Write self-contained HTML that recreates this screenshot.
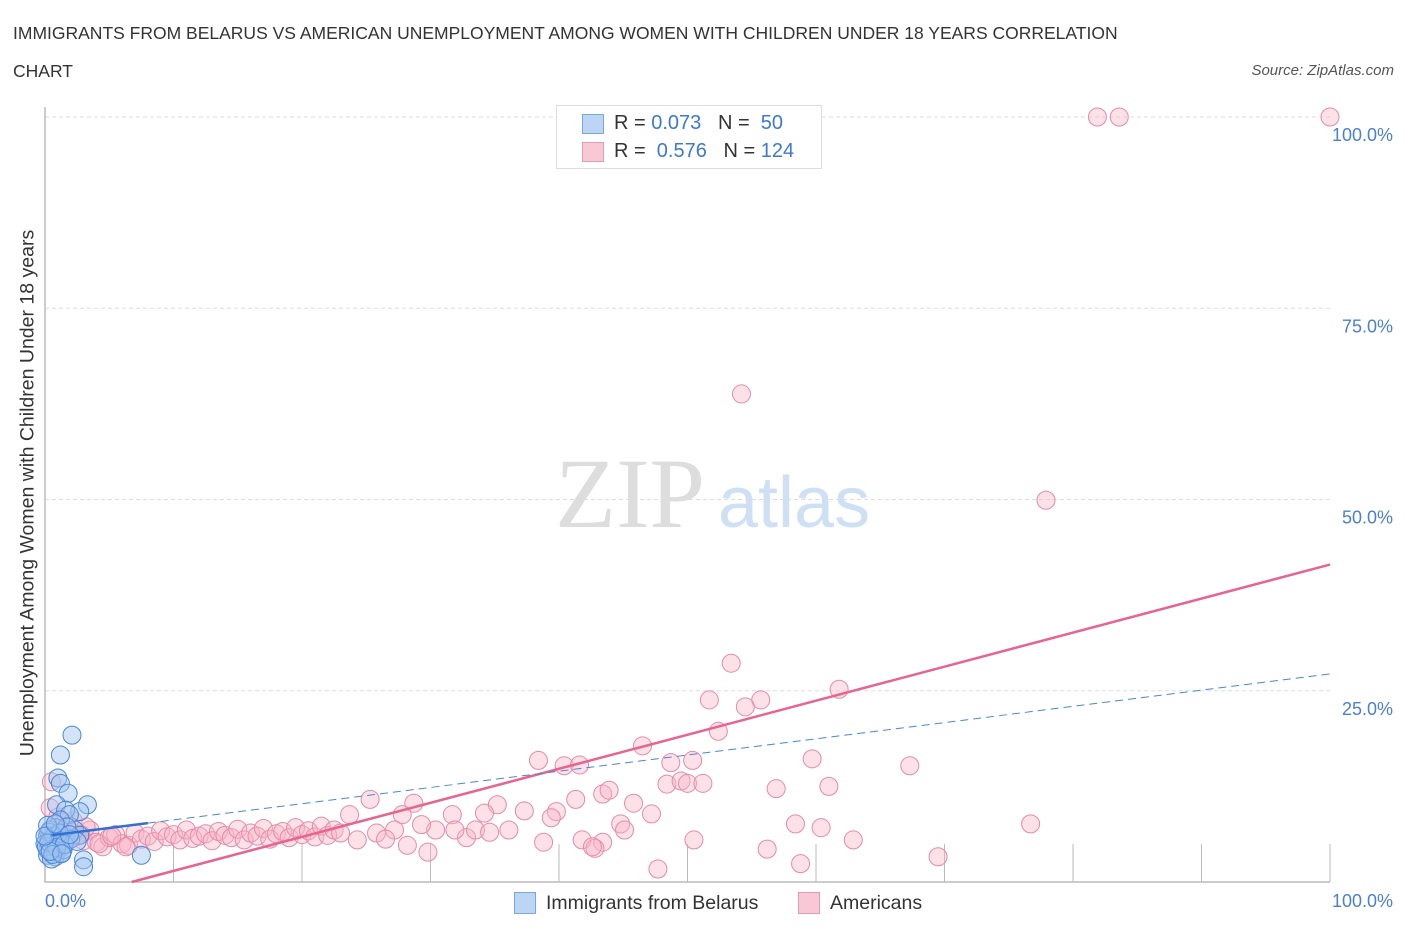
<!DOCTYPE html>
<html><head><meta charset="utf-8"><style>
body{margin:0;background:#fff;font-family:"Liberation Sans",sans-serif;}
#wrap{position:relative;width:1406px;height:930px;overflow:hidden;}
.t{position:absolute;white-space:nowrap;}
</style></head><body>
<div id="wrap">
<div class="t" style="left:13px;top:14px;font-size:17.5px;color:#333;line-height:38px">IMMIGRANTS FROM BELARUS VS AMERICAN UNEMPLOYMENT AMONG WOMEN WITH CHILDREN UNDER 18 YEARS CORRELATION<br>CHART</div>
<div class="t" style="right:12px;top:62px;font-size:15px;color:#555;font-style:italic">Source: ZipAtlas.com</div>
<svg id="svg" width="1406" height="930" style="position:absolute;left:0;top:0"></svg>
</div>
<script>
const pinkX=[81.9,83.6,100,54.2,77.9,53.4,61.8,51.7,55.7,54.5,52.4,46.5,38.4,59.7,40.4,41.6,48.7,50.4,67.3,48.4,49.5,50.0,51.2,56.9,61.0,43.4,43.9,41.3,45.8,25.3,28.7,35.2,37.3,39.8,39.4,47.2,34.2,31.7,23.7,27.8,44.8,45.1,58.4,60.4,76.7,43.4,41.8,50.5,38.8,62.9,42.8,42.6,56.2,47.7,58.8,69.5,29.8,28.2,24.3,25.8,27.2,30.4,32.8,33.5,36.1,34.6,31.9,29.3,0.5,0.4,1.0,1.5,2.0,2.5,3.0,3.5,4.0,4.5,5.0,5.5,6.0,6.5,7.0,7.5,8.0,8.5,9.0,9.5,10.0,10.5,11.0,11.5,12.0,12.5,13.0,13.5,14.0,14.5,15.0,15.5,16.0,16.5,17.0,17.5,18.0,18.5,19.0,19.5,20.0,20.5,21.0,21.5,22.0,22.5,23.0,2.2,3.2,1.8,2.8,4.2,5.2,6.3,1.2,26.5];
const pinkY=[100,100,100,63.8,49.9,28.6,25.2,23.8,23.8,22.9,19.7,17.8,15.9,16.1,15.2,15.3,15.6,15.9,15.2,12.8,13.2,12.9,12.9,12.2,12.5,11.5,12.0,10.8,10.3,10.8,10.3,10.1,9.3,9.2,8.4,8.9,9.0,8.8,8.8,8.8,7.6,6.8,7.6,7.1,7.6,5.2,5.5,5.5,5.2,5.5,4.4,4.6,4.3,1.7,2.4,3.3,3.9,4.8,5.5,6.4,6.8,6.8,5.8,6.8,6.8,6.5,6.8,7.5,13.1,9.7,8.5,7.8,6.6,6.0,5.4,6.8,5.2,4.6,5.8,6.2,5.0,4.8,6.4,5.6,6.0,5.3,6.7,5.9,6.2,5.5,6.8,5.7,6.0,6.3,5.4,6.6,6.1,5.8,6.9,5.5,6.4,6.0,7.0,5.6,6.3,6.6,5.8,7.1,6.2,6.7,5.9,7.3,6.1,6.8,6.4,8.0,7.2,5.4,6.2,5.0,6.0,4.6,6.8,5.6];
const blueX=[2.1,1.2,1.0,1.2,1.8,3.3,0.9,2.7,1.6,1.9,1.2,0.8,2.3,2.7,0.2,0.4,0.5,0.2,0.8,1.2,1.6,0.4,0.0,0.2,7.5,3.0,3.0,0.8,1.3,0.6,0.3,1.0,1.4,0.1,0.5,1.7,2.0,0.7,0.3,1.1,0.9,0.2,0.6,1.5,2.5,0.4,0.0,0.8,1.9,1.3];
const blueY=[19.2,16.6,13.6,12.9,11.6,10.1,10.1,9.2,9.4,8.8,8.1,7.1,6.8,6.1,6.1,5.5,4.8,4.2,3.9,4.4,5.5,6.8,5.0,3.5,3.5,2.9,2.0,3.3,3.8,5.8,6.5,5.0,4.2,4.6,3.0,7.2,5.6,6.0,5.2,6.4,4.5,7.4,3.6,4.9,5.3,4.0,6.0,7.6,6.2,3.7];
const yTicks=[25,50,75,100];
const yTickLabels=["25.0%","50.0%","75.0%","100.0%"];
const pinkFit=[-3.0,0.445];
const blueFit=[6.0,0.212];
const X0=45,X1=1330,Y0=882,Y1=117;
const sx=v=>X0+(X1-X0)*v/100, sy=v=>Y0-(Y0-Y1)*v/100;
const svg=document.getElementById('svg');const NS='http://www.w3.org/2000/svg';
function mk(t,a,p){const e=document.createElementNS(NS,t);for(const k in a)e.setAttribute(k,a[k]);(p||svg).appendChild(e);return e;}
yTicks.forEach((v,i)=>{
 const g=mk('line',{x1:X0,x2:X1,y1:sy(v),y2:sy(v),stroke:'#ddd','stroke-dasharray':'4,3'});
 
 
 const t=mk('text',{x:1393,y:sy(v)+24,'text-anchor':'end','font-size':18,fill:'#4a7fd4','font-family':'Liberation Sans'});t.textContent=yTickLabels[i];
 
 
});
for(let i=1;i<=10;i++){const l=mk('line',{x1:sx(i*10),x2:sx(i*10),y1:Y0,y2:Y0-38,stroke:'#bbb'});
 
 }
const ax=mk('path',{d:`M${X0} ${Y1-10}V${Y0}H${X1}`,fill:'none',stroke:'#bbb','stroke-width':1.5});


const w1=mk('text',{x:555,y:527,'font-size':100,fill:'#ddd','font-family':'Liberation Serif'});w1.textContent='ZIP';


const w2=mk('text',{x:718,y:527,'font-size':72,fill:'#cfe0f5','font-family':'Liberation Sans'});w2.textContent='atlas';


pinkX.forEach((x,i)=>{const c=mk('circle',{cx:sx(x),cy:sy(pinkY[i]),r:9,fill:'rgba(248,180,200,0.4)',stroke:'#e68aa8','stroke-width':1});
 
 });
blueX.forEach((x,i)=>{const c=mk('circle',{cx:sx(x),cy:sy(blueY[i]),r:9,fill:'rgba(160,195,240,0.45)',stroke:'#4a86d8','stroke-width':1});
 
 });
const pxs=(0-pinkFit[0])/pinkFit[1];
const pl=mk('line',{x1:sx(pxs),y1:sy(0),x2:sx(100),y2:sy(pinkFit[0]+pinkFit[1]*100),stroke:'#e8648f','stroke-width':2.5});


const bd=mk('line',{x1:sx(8),y1:sy(blueFit[0]+blueFit[1]*8),x2:sx(100),y2:sy(blueFit[0]+blueFit[1]*100),stroke:'#4a86d8','stroke-width':1,'stroke-dasharray':'8,5'});


const bs=mk('line',{x1:sx(0.5),y1:sy(blueFit[0]+blueFit[1]*0.5),x2:sx(8),y2:sy(blueFit[0]+blueFit[1]*8),stroke:'#2f6fd6','stroke-width':2.5});


</script>
<div class="t" style="left:28px;top:493px;font-size:19.5px;color:#333;transform:translate(-50%,-50%) rotate(-90deg)">Unemployment Among Women with Children Under 18 years</div>
<div class="t" style="left:45px;top:891px;font-size:18px;color:#4a7fd4">0.0%</div>
<div class="t" style="right:13px;top:891px;font-size:18px;color:#4a7fd4">100.0%</div>
<div style="position:absolute;left:556px;top:105px;width:264px;height:62px;border:1px solid #ddd;background:#fff;font-size:20px;color:#333">
 <div style="position:absolute;left:25px;top:8px;width:20px;height:18px;background:#bcd5f5;border:1px solid #7aa7e3"></div>
 <div class="t" style="left:57px;top:6px">R = <span style="color:#3d78d6">0.073</span> &nbsp;&nbsp;N = &nbsp;<span style="color:#3d78d6">50</span></div>
 <div style="position:absolute;left:25px;top:36px;width:20px;height:18px;background:#f9c8d6;border:1px solid #e99ab3"></div>
 <div class="t" style="left:57px;top:34px">R = &nbsp;<span style="color:#3d78d6">0.576</span> &nbsp;&nbsp;N = <span style="color:#3d78d6">124</span></div>
</div>
<div style="position:absolute;left:514px;top:892px;font-size:19.5px;color:#333">
 <div style="position:absolute;left:0;top:0;width:20px;height:20px;background:#bcd5f5;border:1px solid #7aa7e3"></div>
 <div class="t" style="left:32px;top:0">Immigrants from Belarus</div></div>
<div style="position:absolute;left:798px;top:892px;font-size:19.5px;color:#333">
 <div style="position:absolute;left:0;top:0;width:20px;height:20px;background:#f9c8d6;border:1px solid #e99ab3"></div>
 <div class="t" style="left:32px;top:0">Americans</div></div>
</body></html>
